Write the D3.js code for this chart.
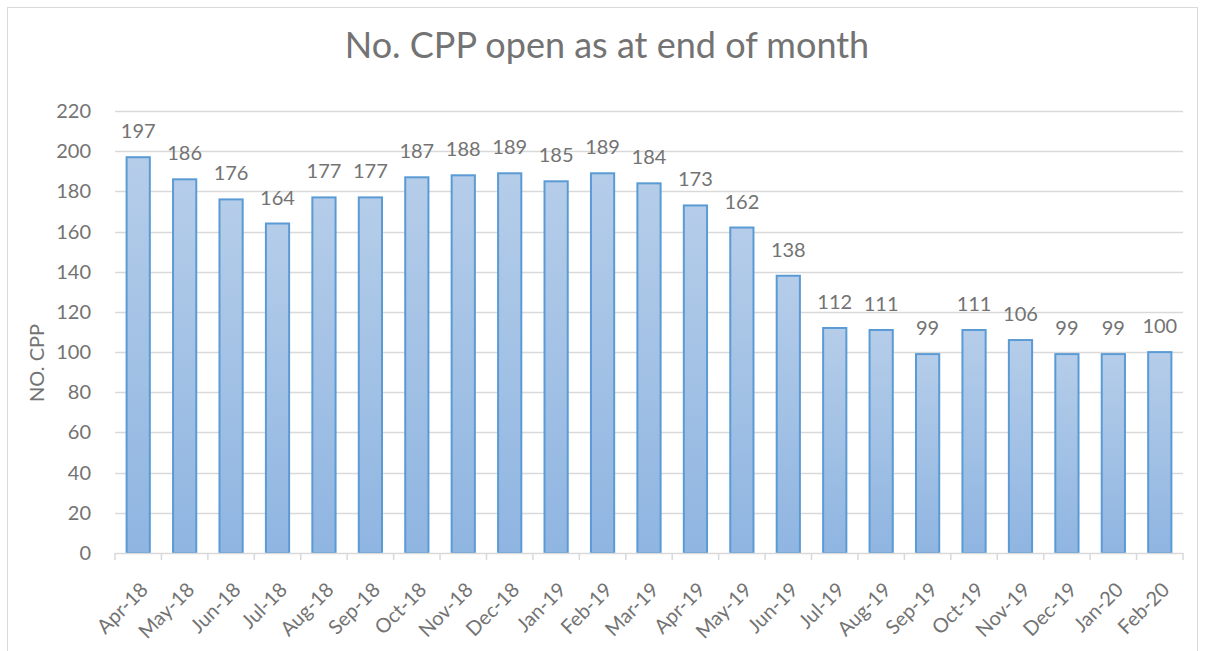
<!DOCTYPE html>
<html>
<head>
<meta charset="utf-8">
<script src="https://cdn.jsdelivr.net/npm/d3@7"></script>
<style>
  body { margin: 0; background: #fff; }
  svg text { font-family: Lato, "Open Sans", sans-serif; fill: #737373; }
</style>
</head>
<body>
<svg id="chart" width="1205" height="651"></svg>
<script>
// Data
const months = ['Apr-18', 'May-18', 'Jun-18', 'Jul-18', 'Aug-18', 'Sep-18', 'Oct-18', 'Nov-18',
  'Dec-18', 'Jan-19', 'Feb-19', 'Mar-19', 'Apr-19', 'May-19', 'Jun-19', 'Jul-19', 'Aug-19',
  'Sep-19', 'Oct-19', 'Nov-19', 'Dec-19', 'Jan-20', 'Feb-20'];
const openCpp = [197, 186, 176, 164, 177, 177, 187, 188, 189, 185, 189, 184, 173, 162, 138,
  112, 111, 99, 111, 106, 99, 99, 100];
const yTicks = [0, 20, 40, 60, 80, 100, 120, 140, 160, 180, 200, 220];

const width = 1205;
const height = 651;
const margin = { left: 115, right: 22, top: 111, bottom: 98 };

const svg = d3.select('#chart');

// frame of the chart area
svg.append('rect')
  .attr('x', 7.5).attr('y', 7.5)
  .attr('width', 1190).attr('height', 660)
  .attr('fill', 'none')
  .attr('stroke', '#d9d9d9');

const grad = svg.append('defs').append('linearGradient')
  .attr('id', 'barFill')
  .attr('x1', 0).attr('y1', 0).attr('x2', 0).attr('y2', 1);
grad.append('stop').attr('offset', '0%').attr('stop-color', '#b5cde9');
grad.append('stop').attr('offset', '100%').attr('stop-color', '#8fb5e1');

const drawWidth = width - margin.left - margin.right;
const drawHeight = height - margin.top - margin.bottom;

const x = d3.scaleBand().domain(months).range([0, drawWidth]).paddingInner(0.5).paddingOuter(0.25);
const y = d3.scaleLinear().domain([0, 220]).range([drawHeight, 0]);

const g = svg.append('g').attr('transform', `translate(${margin.left},${margin.top})`);

// gridlines
g.selectAll('line.grid')
  .data(yTicks.slice(1))
  .enter()
  .append('line')
  .attr('class', 'grid')
  .attr('x1', 0).attr('x2', drawWidth)
  .attr('y1', d => Math.round(y(d)) + 0.5)
  .attr('y2', d => Math.round(y(d)) + 0.5)
  .attr('stroke', '#d9d9d9')
  .attr('stroke-width', 1.3);

// bars
g.selectAll('rect.bar')
  .data(openCpp)
  .enter()
  .append('rect')
  .attr('class', 'bar')
  .attr('x', (d, i) => x(months[i]))
  .attr('y', d => y(d))
  .attr('width', x.bandwidth())
  .attr('height', d => drawHeight - y(d))
  .attr('fill', 'url(#barFill)')
  .attr('stroke', '#5b9bd5')
  .attr('stroke-width', 2);

// value labels
g.selectAll('text.val')
  .data(openCpp)
  .enter()
  .append('text')
  .attr('class', 'val')
  .attr('x', (d, i) => x(months[i]) + x.bandwidth() / 2)
  .attr('y', d => y(d) - 19)
  .attr('text-anchor', 'middle')
  .style('font-size', '20px')
  .text(d => d);

// x axis: line, ticks at band boundaries, rotated labels
const step = x.step();
const xAxis = g.append('g').attr('transform', `translate(0,${drawHeight})`);
xAxis.append('line')
  .attr('x1', 0).attr('x2', drawWidth)
  .attr('y1', 0.5).attr('y2', 0.5)
  .attr('stroke', '#d9d9d9').attr('stroke-width', 1.5);
xAxis.selectAll('line.tick')
  .data(d3.range(months.length + 1))
  .enter()
  .append('line')
  .attr('class', 'tick')
  .attr('x1', i => i * step).attr('x2', i => i * step)
  .attr('y1', 0).attr('y2', 7)
  .attr('stroke', '#d9d9d9').attr('stroke-width', 1.5);
xAxis.selectAll('text.month')
  .data(months)
  .enter()
  .append('text')
  .attr('class', 'month')
  .attr('text-anchor', 'end')
  .attr('transform', d => `translate(${x(d) + x.bandwidth() / 2 + 11},${38}) rotate(-45)`)
  .style('font-size', '20px')
  .text(d => d);

// y axis labels
g.selectAll('text.ytick')
  .data(yTicks)
  .enter()
  .append('text')
  .attr('class', 'ytick')
  .attr('x', -24)
  .attr('y', d => y(d) + 7)
  .attr('text-anchor', 'end')
  .style('font-size', '20px')
  .text(d => d);

// titles
svg.append('text')
  .attr('x', 607).attr('y', 58)
  .attr('text-anchor', 'middle')
  .style('font-size', '36px')
  .text('No. CPP open as at end of month');

svg.append('text')
  .attr('transform', `translate(44,363) rotate(-90)`)
  .attr('text-anchor', 'middle')
  .style('font-size', '20px')
  .text('NO. CPP');
</script>
</body>
</html>
